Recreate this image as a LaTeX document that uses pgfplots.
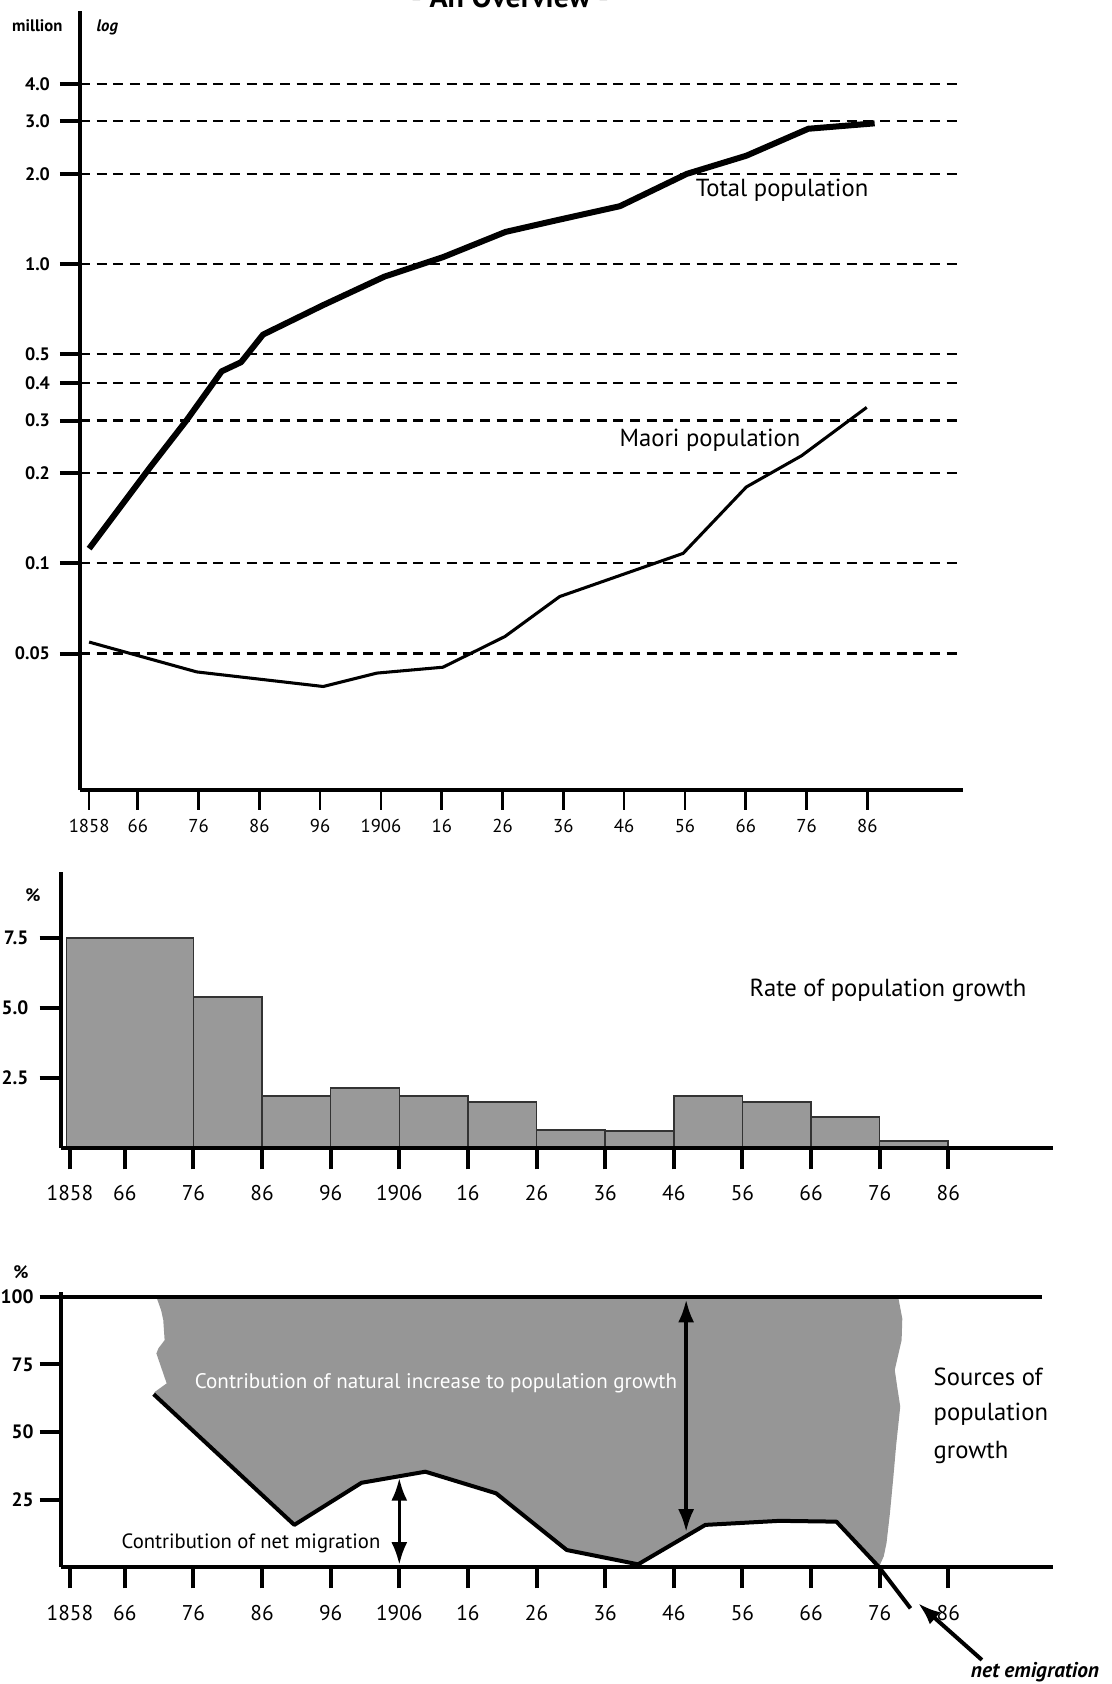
\documentclass[border=0pt]{standalone}
\usepackage{fontspec}
\setmainfont{PT Sans}
\usepackage{pgfplots}
\pgfplotsset{compat=1.18}
\usetikzlibrary{arrows.meta}
\definecolor{barg}{RGB}{153,153,153}
\definecolor{areag}{RGB}{150,150,150}
\newcommand{\fs}[1]{\fontsize{#1}{#1}\selectfont}
\begin{document}
\begin{tikzpicture}
\path[use as bounding box] (0pt,0pt) rectangle (833.25pt,-1263pt);

% ---------- title (cut at top edge, as in the reference) ----------
\node[anchor=base, font=\fs{22.5}\bfseries] at (382.5pt,-5.5pt) {- An Overview -};
\node[anchor=base, font=\fs{12.5}\bfseries] at (28pt,-23.5pt) {million};
\node[anchor=base west, font=\fs{12.5}\bfseries\itshape] at (69pt,-23.5pt) {log};

% ---------- top chart ----------
\begin{axis}[
  at={(60pt,-592.5pt)}, anchor=south west,
  scale only axis, width=662.1pt, height=584.25pt,
  xmin=1856.5, xmax=2001.7,
  ymode=log, ymin=0.0175, ymax=7.0,
  axis x line*=bottom, axis y line*=left,
  axis line style={line width=3pt, -},
  xtick={1858,1866,1876,1886,1896,1906,1916,1926,1936,1946,1956,1966,1976,1986},
  xticklabels={1858,66,76,86,96,1906,16,26,36,46,56,66,76,86},
  ytick={0.05,0.1,0.2,0.3,0.4,0.5,1,2,3,4},
  yticklabels={0.05,0.1,0.2,0.3,0.4,0.5,1.0,2.0,3.0,4.0},
  yminorticks=false, xminorticks=false,
  tick align=outside,
  major tick length=15pt,
  x tick style={line width=2pt, black},
  y tick style={line width=3pt, black},
  ymajorgrids,
  y grid style={line width=1.6pt, black, dash pattern=on 7.5pt off 5pt},
  xticklabel style={font=\fs{14}, yshift=-3.3pt},
  yticklabel style={font=\fs{13.5}\bfseries, xshift=-4pt},
  /pgf/number format/assume math mode=true,
]
\addplot[black, line width=4.5pt, line join=round] coordinates {
(1858,0.112)(1868,0.209)(1874,0.30)(1879.8,0.438)(1883,0.47)(1886.6,0.581)
(1896.5,0.729)(1906.6,0.908)(1916.2,1.054)(1926.5,1.28)(1934.9,1.40)
(1945.3,1.56)(1956.3,2.0)(1966.1,2.30)(1976.3,2.83)(1987.2,2.95)};
\addplot[black, line width=2.3pt, line join=round] coordinates {
(1858,0.0546)(1875.7,0.0434)(1896.5,0.0388)(1905.3,0.043)(1916.2,0.045)
(1926.4,0.057)(1935.4,0.0775)(1955.7,0.108)(1966.1,0.18)(1975.2,0.229)(1985.9,0.332)};
\end{axis}
\node[font=\fs{18.5}] at (586.5pt,-142.5pt) {Total population};
\node[font=\fs{18.5}] at (532.5pt,-330pt) {Maori population};

% ---------- middle chart ----------
\begin{axis}[
  at={(45.75pt,-861pt)}, anchor=south west,
  scale only axis, width=744.2pt, height=207.2pt,
  xmin=1856.7, xmax=2001.3, ymin=0, ymax=9.87,
  axis x line*=bottom, axis y line*=left,
  axis line style={line width=3.5pt, -},
  axis on top,
  xtick={1858,1866,1876,1886,1896,1906,1916,1926,1936,1946,1956,1966,1976,1986},
  xticklabels={1858,66,76,86,96,1906,16,26,36,46,56,66,76,86},
  ytick={2.5,5,7.5}, yticklabels={2.5,5.0,7.5},
  tick align=outside, major tick length=16pt,
  tick style={line width=3pt, black},
  xticklabel style={font=\fs{16}, yshift=-8.5pt},
  yticklabel style={font=\fs{14.5}\bfseries, xshift=-5pt},
  /pgf/number format/assume math mode=true,
]
\addplot[ybar interval, fill=barg, draw=black!80, line width=1.2pt] coordinates {
(1857.5,7.5)(1876,5.4)(1886,1.85)(1896,2.14)(1906,1.85)(1916,1.64)(1926,0.64)
(1936,0.6)(1946,1.85)(1956,1.64)(1966,1.1)(1976,0.24)(1986,0)};
\end{axis}
\node[anchor=base, font=\fs{13.5}\bfseries] at (24.75pt,-676pt) {\%};
\node[font=\fs{18.5}] at (666pt,-742.5pt) {Rate of population growth};

% ---------- bottom chart ----------
\begin{axis}[
  at={(45.75pt,-1175.25pt)}, anchor=south west,
  scale only axis, width=744.2pt, height=206.5pt,
  xmin=1856.7, xmax=2001.3, ymin=0, ymax=101.96,
  axis x line*=bottom, axis y line*=left,
  axis line style={line width=3.5pt, -},
  axis on top, clip=false,
  xtick={1858,1866,1876,1886,1896,1906,1916,1926,1936,1946,1956,1966,1976,1986},
  xticklabels={1858,66,76,86,96,1906,16,26,36,46,56,66,76,86},
  ytick={25,50,75,100}, yticklabels={25,50,75,100},
  tick align=outside, major tick length=16pt,
  tick style={line width=3pt, black},
  xticklabel style={font=\fs{16}, yshift=-9.5pt},
  yticklabel style={font=\fs{14.5}\bfseries, xshift=-1pt},
  /pgf/number format/assume math mode=true,
]
\addplot[fill=areag, draw=none] coordinates {
(1870.6,100)(1871.3,95)(1871.6,91.5)(1871.8,84)(1870.9,81)(1870.6,79.1)(1871.6,71.7)
(1872.1,68)(1870.4,64.9)(1870.2,64)(1890.7,15.6)(1900.5,31.2)(1909.8,35.3)
(1920.1,27.3)(1930.4,6.3)(1940.8,1.0)(1950.6,15.6)(1961.4,17.1)(1969.7,16.8)
(1975.9,0)(1976.6,4)(1977,8.9)(1977.5,20)(1978,33.4)(1978.4,45)(1979,59.4)
(1978.6,66)(1978.2,73)(1979.2,84)(1979.3,92)(1978.7,100)};
\addplot[black, line width=3pt, line join=round] coordinates {
(1870.2,64)(1890.7,15.6)(1900.5,31.2)(1909.8,35.3)(1920.1,27.3)(1930.4,6.3)
(1940.8,1.0)(1950.6,15.6)(1961.4,17.1)(1969.7,16.8)(1975.9,0)(1980.5,-15.3)};
\draw[line width=3.5pt] (axis cs:1856.7,100) -- (axis cs:1999.7,100);
\draw[line width=2.5pt, {Latex[length=17pt,width=12pt]}-{Latex[length=17pt,width=12pt]}]
  (axis cs:1906,33) -- (axis cs:1906,0.8);
\draw[line width=2.5pt, {Latex[length=17pt,width=12pt]}-{Latex[length=17pt,width=12pt]}]
  (axis cs:1947.8,99) -- (axis cs:1947.8,13);
\draw[line width=3pt, -{Latex[length=17pt,width=12pt]}]
  (axis cs:1990.9,-34.4) -- (axis cs:1981.6,-13.4);
\end{axis}
\node[anchor=base, font=\fs{13.5}\bfseries] at (15.75pt,-959pt) {\%};
\node[font=\fs{15.8}, text=white] at (327pt,-1037.25pt) {Contribution of natural increase to population growth};
\node[font=\fs{15.5}] at (188.25pt,-1157.25pt) {Contribution of net migration};
\node[anchor=west, font=\fs{18.5}] at (696.75pt,-1032.75pt) {Sources of};
\node[anchor=west, font=\fs{18.5}] at (696.75pt,-1060.5pt) {population};
\node[anchor=west, font=\fs{18.5}] at (696.75pt,-1089pt) {growth};
\node[font=\fs{16}\bfseries\itshape] at (776.25pt,-1254pt) {net emigration};
\end{tikzpicture}
\end{document}
